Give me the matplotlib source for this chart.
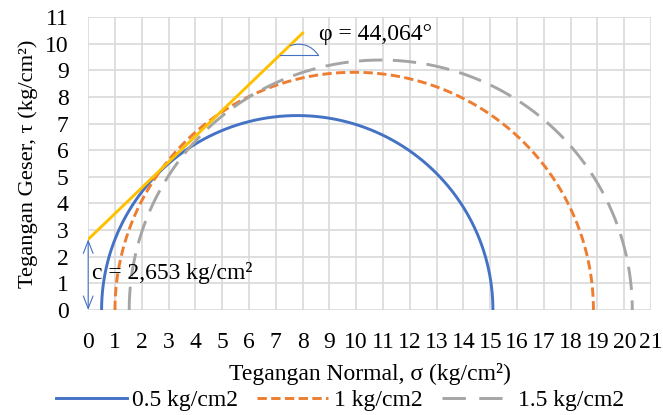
import numpy as np
import matplotlib.pyplot as plt

plt.rcParams['font.family'] = ['Liberation Serif', 'DejaVu Serif']

# Mohr circles: sigma3 (left end), sigma1 (right end)
labels = ['0.5 kg/cm2', '1 kg/cm2', '1.5 kg/cm2']
sigma3 = [0.5, 1.0, 1.53]
sigma1 = [15.1, 18.85, 20.3]
colors = ['#4472C4', '#ED7D31', '#A5A5A5']
styles = ['-', (0, (3.2, 1.5)), (0, (8, 3.6))]

# failure envelope
c = 2.653
phi = 44.064
env_x = [0, 8.0]

fig = plt.figure(figsize=(6.63, 4.15), dpi=100)
ax = fig.add_axes([0.133, 0.253, 0.849, 0.706])

t = np.linspace(0, np.pi, 400)
for s3, s1, col, ls, lab in zip(sigma3, sigma1, colors, styles, labels):
    cen = (s1 + s3) / 2
    r = (s1 - s3) / 2
    ax.plot(cen - r * np.cos(t), r * np.sin(t), color=col, lw=2.1,
            linestyle=ls, label=lab, zorder=3, dash_capstyle='butt')

ex = np.array(env_x)
ax.plot(ex, c + ex * np.tan(np.radians(phi)), color='#FFC000', lw=2.1, zorder=4)

blue = '#4472C4'
# cohesion arrow
ax.annotate('', xy=(0, 0), xytext=(0, c),
            arrowprops=dict(arrowstyle='<->,head_length=0.9,head_width=0.35',
                            color=blue, lw=0.8, shrinkA=0, shrinkB=0), zorder=5)
ax.text(0.15, 1.38, 'c = 2,653 kg/cm²', fontsize=17, va='center', ha='left', zorder=6)

# angle mark
ax.plot([7.16, 8.58], [9.58, 9.58], color=blue, lw=0.8, zorder=5)
ax.annotate('', xy=(8.58, 9.58), xytext=(7.54, 9.93),
            arrowprops=dict(arrowstyle='-', connectionstyle='arc3,rad=-0.35',
                            color=blue, lw=0.8, shrinkA=0, shrinkB=0), zorder=5)
ax.text(8.6, 10.33, 'φ = 44,064°', fontsize=17, va='center', ha='left')

ax.set_xlim(0, 21)
ax.set_ylim(0, 11)
ax.set_xticks(range(0, 22))
ax.set_yticks(range(0, 12))
ax.grid(True, color='#D9D9D9', lw=1.2)
ax.set_axisbelow(True)
for sp in ax.spines.values():
    sp.set_visible(False)
ax.tick_params(length=0, labelsize=17)
ax.tick_params(axis='x', pad=16)
ax.tick_params(axis='y', pad=14)

ax.set_xlabel('Tegangan Normal, σ (kg/cm²)', fontsize=17, labelpad=7)
ax.set_ylabel('Tegangan Geser, τ (kg/cm²)', fontsize=16.2, labelpad=5)

leg = fig.legend(*ax.get_legend_handles_labels(), loc='center', bbox_to_anchor=(0.513, 0.036),
                 ncol=3, frameon=False, fontsize=17, handlelength=3.0, columnspacing=0.8,
                 handletextpad=0.25, borderaxespad=0, borderpad=0)
leg.get_lines()[2].set_linestyle((0, (8, 4.6)))

fig.savefig('out.png', dpi=100)
